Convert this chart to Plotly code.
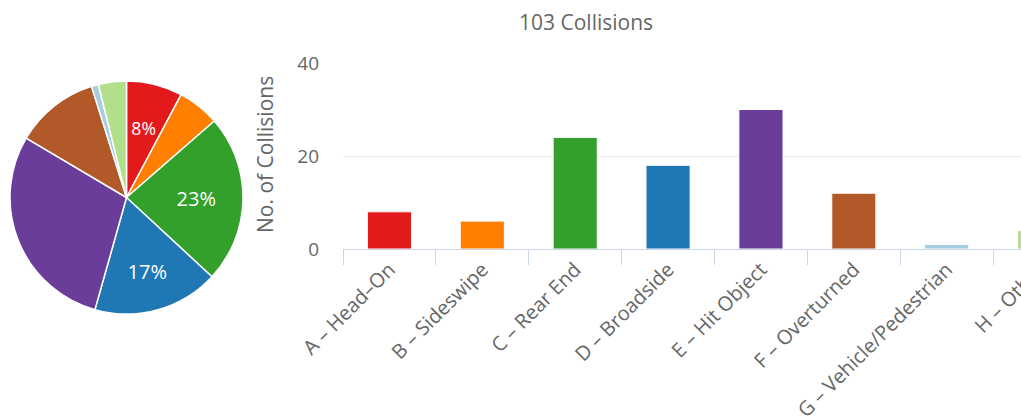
import plotly.graph_objects as go

# ---- data ----
categories = ["A – Head–On", "B – Sideswipe", "C – Rear End", "D – Broadside",
              "E – Hit Object", "F – Overturned", "G – Vehicle/Pedestrian", "H – Other"]
counts = [8, 6, 24, 18, 30, 12, 1, 4]
colors = ["#e31a1c", "#ff7f00", "#33a02c", "#1f78b4",
          "#6a3d9a", "#b15928", "#a6cee3", "#b2df8a"]
pie_labelled_outer = ["C – Rear End", "D – Broadside"]   # labels sitting in the full pie
pie_labelled_inner = ["A – Head–On"]                     # label sitting nearer the centre
chart_title = "103 Collisions"
y_title = "No. of Collisions"
y_ticks = [0, 20, 40]

# ---- layout constants (pixels) ----
W, H = 1100, 419
FONT = "Open Sans"
GREY = "#666666"
PIE_CX, PIE_CY, PIE_R = 126.5, 197.5, 116.5
INNER_R = 88

total = sum(counts)


def pct_text(keep):
    return [f"{round(100 * v / total)}%" if c in keep else ""
            for c, v in zip(categories, counts)]


def pie_domain(r):
    return dict(x=[(PIE_CX - r) / W, (PIE_CX + r) / W],
                y=[(H - PIE_CY - r) / H, (H - PIE_CY + r) / H])


fig = go.Figure()

fig.add_trace(go.Pie(
    labels=categories, values=counts, text=pct_text(pie_labelled_outer),
    textinfo="text", textposition="inside", insidetextorientation="horizontal",
    textfont=dict(family=FONT, size=20, color="white"),
    marker=dict(colors=colors, line=dict(color="white", width=1.5)),
    sort=False, direction="clockwise", rotation=0, showlegend=False,
    domain=pie_domain(PIE_R), hoverinfo="label+value",
))

# transparent overlay pie that only carries the label of the narrow first slice
fig.add_trace(go.Pie(
    labels=categories, values=counts, text=pct_text(pie_labelled_inner),
    textinfo="text", textposition="inside", insidetextorientation="horizontal",
    textfont=dict(family=FONT, size=20, color="white"),
    marker=dict(colors=["rgba(0,0,0,0)"] * len(counts), line=dict(width=0)),
    sort=False, direction="clockwise", rotation=0, showlegend=False,
    domain=pie_domain(INNER_R), hoverinfo="skip",
))

fig.add_trace(go.Bar(
    x=categories, y=counts,
    marker=dict(color=colors, line=dict(color="white", width=1)),
    showlegend=False, hoverinfo="x+y",
))

fig.update_layout(
    width=W, height=H,
    margin=dict(l=0, r=0, t=0, b=0),
    paper_bgcolor="white", plot_bgcolor="white",
    font=dict(family=FONT, color=GREY),
    bargap=0.525,
    xaxis=dict(
        domain=[343 / W, 1086 / W], type="category",
        showline=True, linecolor="#ccd6eb", linewidth=1,
        ticks="outside", tickson="boundaries", ticklen=15, tickcolor="#ccd6eb",
        tickangle=-45, tickfont=dict(family=FONT, size=20, color=GREY),
        showgrid=False, automargin=False,
    ),
    yaxis=dict(
        domain=[(H - 249) / H, (H - 63) / H], range=[0, 40],
        tickvals=y_ticks, showgrid=True, gridcolor="#e6e6e6", gridwidth=1,
        zeroline=False, showline=False, ticks="",
        tickfont=dict(family=FONT, size=19, color=GREY),
        ticklabelstandoff=23, automargin=False,
    ),
    annotations=[
        dict(text=chart_title, x=586 / W, y=(H - 22) / H, xref="paper", yref="paper",
             showarrow=False, font=dict(family=FONT, size=21, color=GREY),
             xanchor="center", yanchor="middle"),
        dict(text=y_title, x=265 / W, y=(H - 155) / H, xref="paper", yref="paper",
             showarrow=False, textangle=-90, font=dict(family=FONT, size=21, color=GREY),
             xanchor="center", yanchor="middle"),
    ],
)

fig.write_html("out.html", config={"displayModeBar": False},
               post_script="document.body.style.margin='0';document.body.style.overflow='hidden';")
